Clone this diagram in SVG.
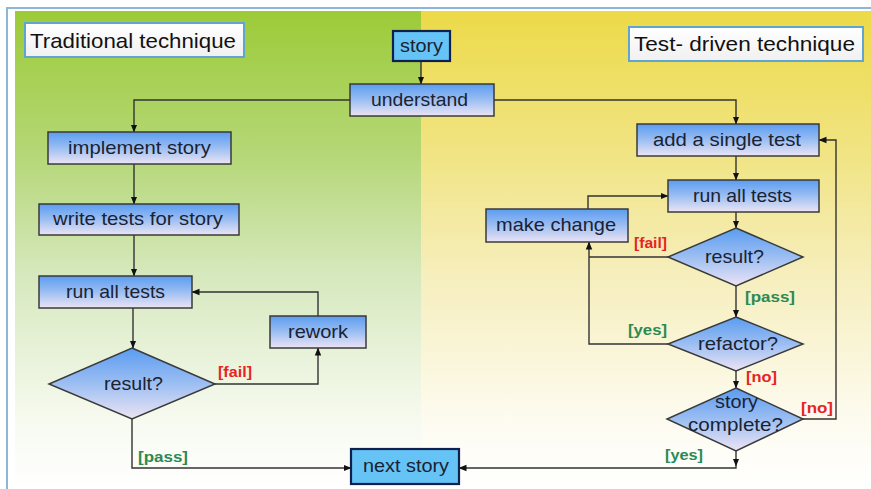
<svg xmlns="http://www.w3.org/2000/svg" width="871" height="489" viewBox="0 0 871 489">
  <defs>
    <linearGradient id="bgGreen" x1="0" y1="0" x2="0" y2="1">
      <stop offset="0" stop-color="#9ccb38"/>
      <stop offset="0.3" stop-color="#b5d777"/>
      <stop offset="0.55" stop-color="#d6e8bd"/>
      <stop offset="0.85" stop-color="#f6faef"/>
      <stop offset="1" stop-color="#ffffff"/>
    </linearGradient>
    <linearGradient id="bgYellow" x1="0" y1="0" x2="0" y2="1">
      <stop offset="0" stop-color="#ecda48"/>
      <stop offset="0.3" stop-color="#f1e484"/>
      <stop offset="0.55" stop-color="#f6eebc"/>
      <stop offset="0.85" stop-color="#fdfbef"/>
      <stop offset="1" stop-color="#ffffff"/>
    </linearGradient>
    <linearGradient id="nodeFill" x1="0" y1="0" x2="0" y2="1">
      <stop offset="0" stop-color="#5a9cf0"/>
      <stop offset="0.5" stop-color="#9cbef2"/>
      <stop offset="1" stop-color="#ece4f4"/>
    </linearGradient>
    <linearGradient id="titleFill" x1="0" y1="0" x2="0" y2="1">
      <stop offset="0" stop-color="#ffffff"/>
      <stop offset="1" stop-color="#f0f0f0"/>
    </linearGradient>
    <marker id="arrow" viewBox="0 0 8 8" refX="7.5" refY="4" markerWidth="8" markerHeight="8" markerUnits="userSpaceOnUse" orient="auto">
      <path d="M0 0.8 L8 4 L0 7.2 Z" fill="#111"/>
    </marker>
  </defs>
  <style>
    .box { fill: url(#nodeFill); stroke: #3a3a3a; stroke-width: 1.5; }
    .term { fill: #66c3f5; stroke: #0f1f4e; stroke-width: 2.2; }
    .title { fill: url(#titleFill); stroke: #5fa5cf; stroke-width: 2; }
    .txt { font-family: "Liberation Sans", Arial, sans-serif; font-size: 18.5px; fill: #1a2233; text-anchor: middle; }
    .ttl { font-family: "Liberation Sans", Arial, sans-serif; font-size: 21px; fill: #111; }
    .lbl { font-family: "Liberation Sans", Arial, sans-serif; font-size: 15.5px; font-weight: bold; }
    .fail { fill: #e52525; }
    .pass { fill: #2b8a52; }
    .edge { fill: none; stroke: #333; stroke-width: 1.4; }
  </style>

  <!-- background panels and frame -->
  <rect x="0" y="0" width="871" height="489" fill="#ffffff"/>
  <rect x="15" y="11" width="407" height="478" fill="url(#bgGreen)"/>
  <rect x="421" y="11" width="450" height="478" fill="url(#bgYellow)"/>
  <path d="M7 489 V8 H871" fill="none" stroke="#8db6d8" stroke-width="2"/>

  <!-- panel titles -->
  <g id="title-traditional">
    <rect class="title" x="25" y="23" width="219" height="34"/>
    <text class="ttl" x="30" y="48" textLength="206" lengthAdjust="spacingAndGlyphs">Traditional technique</text>
  </g>
  <g id="title-tdd">
    <rect class="title" x="629" y="27" width="234" height="34"/>
    <text class="ttl" x="634" y="51" textLength="221" lengthAdjust="spacingAndGlyphs">Test- driven technique</text>
  </g>

  <!-- connectors -->
  <g id="connectors">
    <path class="edge" d="M421 61 V84" marker-end="url(#arrow)"/>
    <path class="edge" d="M350 100 H134 V132" marker-end="url(#arrow)"/>
    <path class="edge" d="M134 164 V204" marker-end="url(#arrow)"/>
    <path class="edge" d="M134 235 V276" marker-end="url(#arrow)"/>
    <path class="edge" d="M133 308 V348" marker-end="url(#arrow)"/>
    <path class="edge" d="M215 384 H318 V348" marker-end="url(#arrow)"/>
    <path class="edge" d="M318 316 V292 H192" marker-end="url(#arrow)"/>
    <path class="edge" d="M132 419 V468 H351" marker-end="url(#arrow)"/>
    <path class="edge" d="M494 100 H736 V124" marker-end="url(#arrow)"/>
    <path class="edge" d="M736 156 V180" marker-end="url(#arrow)"/>
    <path class="edge" d="M736 212 V228" marker-end="url(#arrow)"/>
    <path class="edge" d="M668 257 H589"/>
    <path class="edge" d="M668 344 H589 V242" marker-end="url(#arrow)"/>
    <path class="edge" d="M588 209 V196 H668" marker-end="url(#arrow)"/>
    <path class="edge" d="M736 286 V317" marker-end="url(#arrow)"/>
    <path class="edge" d="M736 371 V388" marker-end="url(#arrow)"/>
    <path class="edge" d="M803 419 H836 V140 H819" marker-end="url(#arrow)"/>
    <path class="edge" d="M736 451 V466" marker-end="url(#arrow)"/>
    <path class="edge" d="M736 466 V468 H459" marker-end="url(#arrow)"/>

    <text class="lbl fail" x="218" y="377" textLength="34" lengthAdjust="spacingAndGlyphs">[fail]</text>
    <text class="lbl pass" x="138" y="462" textLength="50" lengthAdjust="spacingAndGlyphs">[pass]</text>
    <text class="lbl fail" x="634" y="248" textLength="33" lengthAdjust="spacingAndGlyphs">[fail]</text>
    <text class="lbl pass" x="745" y="302" textLength="50" lengthAdjust="spacingAndGlyphs">[pass]</text>
    <text class="lbl pass" x="628" y="335" textLength="39" lengthAdjust="spacingAndGlyphs">[yes]</text>
    <text class="lbl fail" x="746" y="382" textLength="31" lengthAdjust="spacingAndGlyphs">[no]</text>
    <text class="lbl fail" x="801" y="413" textLength="32" lengthAdjust="spacingAndGlyphs">[no]</text>
    <text class="lbl pass" x="665" y="460" textLength="38" lengthAdjust="spacingAndGlyphs">[yes]</text>
  </g>

  <!-- shared start -->
  <g id="story">
    <rect class="term" x="393" y="31" width="57" height="30"/>
    <text class="txt" x="421.5" y="52" textLength="43" lengthAdjust="spacingAndGlyphs">story</text>
  </g>
  <g id="understand">
    <rect class="box" x="350" y="84" width="144" height="32"/>
    <text class="txt" x="419.5" y="106" textLength="97" lengthAdjust="spacingAndGlyphs">understand</text>
  </g>

  <!-- traditional flow -->
  <g id="implement-story">
    <rect class="box" x="48" y="132" width="183" height="32"/>
    <text class="txt" x="139.5" y="154" textLength="143" lengthAdjust="spacingAndGlyphs">implement story</text>
  </g>
  <g id="write-tests">
    <rect class="box" x="39" y="204" width="200" height="31"/>
    <text class="txt" x="138" y="225" textLength="170" lengthAdjust="spacingAndGlyphs">write tests for story</text>
  </g>
  <g id="run-all-tests-left">
    <rect class="box" x="39" y="276" width="153" height="32"/>
    <text class="txt" x="115.5" y="298" textLength="99" lengthAdjust="spacingAndGlyphs">run all tests</text>
  </g>
  <g id="result-left">
    <polygon class="box" points="132,348 215,384 132,419 49,384"/>
    <text class="txt" x="133.5" y="390" textLength="59" lengthAdjust="spacingAndGlyphs">result?</text>
  </g>
  <g id="rework">
    <rect class="box" x="270" y="316" width="96" height="32"/>
    <text class="txt" x="318" y="338" textLength="60" lengthAdjust="spacingAndGlyphs">rework</text>
  </g>

  <!-- test-driven flow -->
  <g id="add-single-test">
    <rect class="box" x="637" y="124" width="182" height="32"/>
    <text class="txt" x="727" y="146" textLength="148" lengthAdjust="spacingAndGlyphs">add a single test</text>
  </g>
  <g id="run-all-tests-right">
    <rect class="box" x="668" y="180" width="151" height="32"/>
    <text class="txt" x="742.5" y="202" textLength="99" lengthAdjust="spacingAndGlyphs">run all tests</text>
  </g>
  <g id="make-change">
    <rect class="box" x="486" y="209" width="142" height="33"/>
    <text class="txt" x="556" y="231" textLength="120" lengthAdjust="spacingAndGlyphs">make change</text>
  </g>
  <g id="result-right">
    <polygon class="box" points="736,228 803,257 736,286 668,257"/>
    <text class="txt" x="734.5" y="263" textLength="59" lengthAdjust="spacingAndGlyphs">result?</text>
  </g>
  <g id="refactor">
    <polygon class="box" points="736,317 803,344 736,371 668,344"/>
    <text class="txt" x="738" y="350" textLength="80" lengthAdjust="spacingAndGlyphs">refactor?</text>
  </g>
  <g id="story-complete">
    <polygon class="box" points="736,388 803,419 736,451 667,419"/>
    <text class="txt" x="736.5" y="408" textLength="43" lengthAdjust="spacingAndGlyphs">story</text>
    <text class="txt" x="735.5" y="431" textLength="95" lengthAdjust="spacingAndGlyphs">complete?</text>
  </g>

  <!-- shared end -->
  <g id="next-story">
    <rect class="term" x="351" y="449" width="108" height="35"/>
    <text class="txt" x="406" y="472" textLength="86" lengthAdjust="spacingAndGlyphs">next story</text>
  </g>
</svg>
